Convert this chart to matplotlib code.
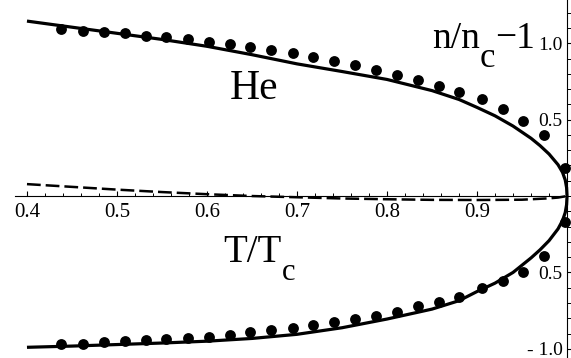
import matplotlib
matplotlib.use("Agg")
import numpy as np
import matplotlib.pyplot as plt
from matplotlib.ticker import FixedLocator, MultipleLocator

plt.rcParams["font.family"] = ["Liberation Serif", "DejaVu Serif"]

# coexistence curve of helium, reduced units
t_curve = [0.40, 0.45, 0.50, 0.55, 0.60, 0.65, 0.70, 0.75, 0.80, 0.85, 0.88,
           0.90, 0.92, 0.94, 0.96, 0.97, 0.98, 0.99, 0.995, 0.998, 0.9995, 1.0]
liquid = [1.145, 1.105, 1.065, 1.025, 0.980, 0.925, 0.865, 0.815, 0.763, 0.690, 0.632,
          0.580, 0.525, 0.458, 0.378, 0.330, 0.275, 0.205, 0.155, 0.105, 0.055, 0.0]
vapour = [-0.990, -0.982, -0.972, -0.962, -0.950, -0.932, -0.905, -0.862, -0.805, -0.740, -0.685,
          -0.625, -0.570, -0.500, -0.405, -0.352, -0.292, -0.215, -0.160, -0.108, -0.057, 0.0]

# rectilinear diameter
t_mid = [0.40, 0.45, 0.50, 0.55, 0.60, 0.65, 0.70, 0.75, 0.80, 0.85, 0.90, 0.95, 0.98, 0.99, 1.0]
diam = [0.078, 0.060, 0.042, 0.026, 0.012, 0.000, -0.008, -0.016, -0.021, -0.025, -0.026,
        -0.024, -0.015, -0.010, 0.0]

# experimental points
t_exp = [0.438, 0.462, 0.486, 0.509, 0.532, 0.554, 0.579, 0.602, 0.626, 0.648, 0.671, 0.696,
         0.718, 0.741, 0.764, 0.788, 0.811, 0.834, 0.858, 0.880, 0.906, 0.929, 0.951, 0.974, 0.998]
liq_exp = [1.090, 1.080, 1.075, 1.065, 1.050, 1.040, 1.025, 1.008, 0.992, 0.977, 0.959, 0.935,
           0.909, 0.882, 0.855, 0.823, 0.790, 0.759, 0.720, 0.678, 0.632, 0.570, 0.490, 0.398, 0.183]
vap_exp = [-0.970, -0.968, -0.958, -0.950, -0.943, -0.937, -0.930, -0.922, -0.907, -0.892, -0.879,
           -0.865, -0.846, -0.826, -0.807, -0.787, -0.757, -0.722, -0.695, -0.660, -0.603, -0.557,
           -0.498, -0.393, -0.170]

x_ticks = [0.4, 0.5, 0.6, 0.7, 0.8, 0.9]
y_ticks = [-1.0, -0.5, 0.5, 1.0]
y_ticklabels = ["- 1.0", "0.5", "0.5", "1.0"]

fig = plt.figure(figsize=(5.71, 3.58), dpi=100)
ax = fig.add_axes([15 / 571, 0, 556 / 571, 1])
ax.set_xlim(0.3867, 1.0044)
ax.set_ylim(-1.060, 1.283)

ax.plot(t_curve, liquid, color="black", lw=2.3, solid_capstyle="butt")
ax.plot(t_curve, vapour, color="black", lw=2.3, solid_capstyle="butt")
ax.plot(t_mid, diam, color="black", lw=1.8, dashes=(5.5, 2.0))
ax.plot(t_exp, liq_exp, "o", color="black", ms=7.8, mec="none", zorder=4, clip_on=False)
ax.plot(t_exp, vap_exp, "o", color="black", ms=7.8, mec="none", zorder=4, clip_on=False)

# axes crossing at (1, 0)
for s in ["top", "right"]:
    ax.spines[s].set_visible(False)
ax.spines["bottom"].set_position(("data", 0))
ax.spines["left"].set_position(("data", 1.0))
ax.spines["bottom"].set_bounds(0.3867, 1.0)
for s in ["bottom", "left"]:
    ax.spines[s].set_linewidth(0.8)

ax.xaxis.set_major_locator(FixedLocator(x_ticks))
ax.xaxis.set_minor_locator(MultipleLocator(0.02))
ax.set_xticklabels(["%.1f" % v for v in x_ticks])
ax.yaxis.set_major_locator(FixedLocator(y_ticks))
ax.yaxis.set_minor_locator(FixedLocator(np.arange(-1.0, 1.25, 0.1)))
ax.set_yticklabels(y_ticklabels)

ax.tick_params(axis="x", which="major", direction="in", length=3.6, width=0.8,
               labelsize=15, pad=5)
ax.tick_params(axis="x", which="minor", direction="in", length=2.2, width=0.7)
ax.tick_params(axis="y", which="major", direction="in", length=3.0, width=0.8,
               labelsize=14, pad=3)
ax.tick_params(axis="y", which="minor", direction="in", length=3.0, width=0.7)

ax.text(0.6256, 0.633, "He", fontsize=30, ha="left", va="baseline")

tx = ax.text(0.618, -0.433, "T/T", fontsize=28, ha="left", va="baseline")
ax.annotate("c", xy=(1, -0.551), xycoords=(tx, "data"), fontsize=22,
            ha="left", va="baseline")

ny = ax.text(0.850, 0.966, "n/n", fontsize=27, ha="left", va="baseline")
nc = ax.annotate("c", xy=(1, 0.843), xycoords=(ny, "data"), fontsize=25,
                 ha="left", va="baseline")
ax.annotate("\u22121", xy=(1, 0.966), xycoords=(nc, "data"), fontsize=27,
            ha="left", va="baseline")

fig.savefig("out.png", dpi=100)
